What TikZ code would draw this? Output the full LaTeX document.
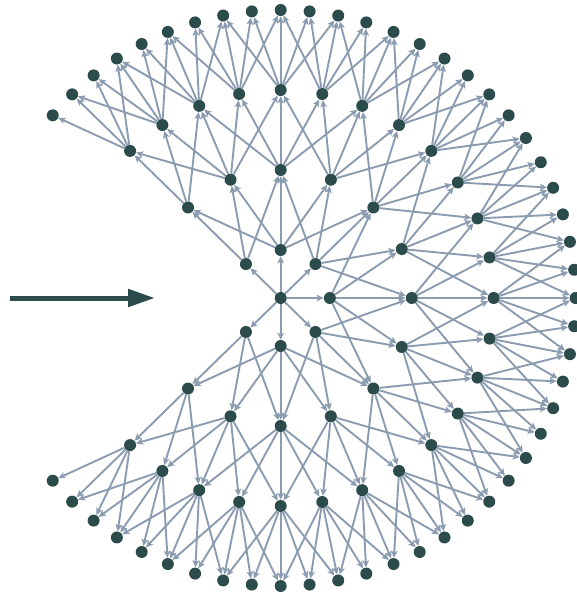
\documentclass[tikz,border=0pt]{standalone}
\usetikzlibrary{arrows.meta,backgrounds}
\definecolor{nodecol}{RGB}{44,76,76}
\definecolor{edgecol}{RGB}{139,156,176}
\begin{document}
\begin{tikzpicture}[x=1pt,y=-1pt,
  vert/.style={circle,fill=nodecol,inner sep=0pt,minimum size=12pt},
  edge/.style={draw=edgecol,line width=1.9pt,-{Stealth[length=7pt,width=6.5pt,inset=1.5pt]}},
  bigarrow/.style={draw=nodecol,line width=5pt,-{Triangle[length=27pt,width=17pt]}}]
\useasboundingbox (0,0) rectangle (577,592);
\node[vert] (c) at (280.7,298) {};
\foreach \k/\n/\r in {1/3/48,2/6/128,3/12/208,4/25/288}{
  \pgfmathsetmacro\st{90/2^\k}
  \foreach \i in {-\n,...,\n}{
    \pgfmathtruncatemacro\j{\i+\n}
    \pgfmathsetmacro\px{280.7+1.024*\r*cos(\i*\st)}
    \pgfmathsetmacro\py{298-\r*sin(\i*\st)}
    \node[vert] (L\k n\j) at (\px,\py) {};
  }
}
\begin{scope}[on background layer]
\foreach \j in {0,...,6} \draw[edge] (c) -- (L1n\j);
\foreach \k/\n/\m in {1/3/6,2/6/12,3/12/25}{
  \pgfmathtruncatemacro\kk{\k+1}
  \foreach \i in {-\n,...,\n}{
    \pgfmathtruncatemacro\j{\i+\n}
    \foreach \d in {-2,...,2}{
      \pgfmathtruncatemacro\p{2*\i+\d}
      \pgfmathtruncatemacro\ok{abs(\p)<=\m}
      \ifnum\ok=1
        \pgfmathtruncatemacro\q{\p+\m}
        \draw[edge] (L\k n\j) -- (L\kk n\q);
      \fi
    }
  }
}
\end{scope}
\coordinate (arrS) at (10,298);
\coordinate (arrE) at (155,298);
\draw[bigarrow] (arrS) -- (arrE);
\end{tikzpicture}
\end{document}
